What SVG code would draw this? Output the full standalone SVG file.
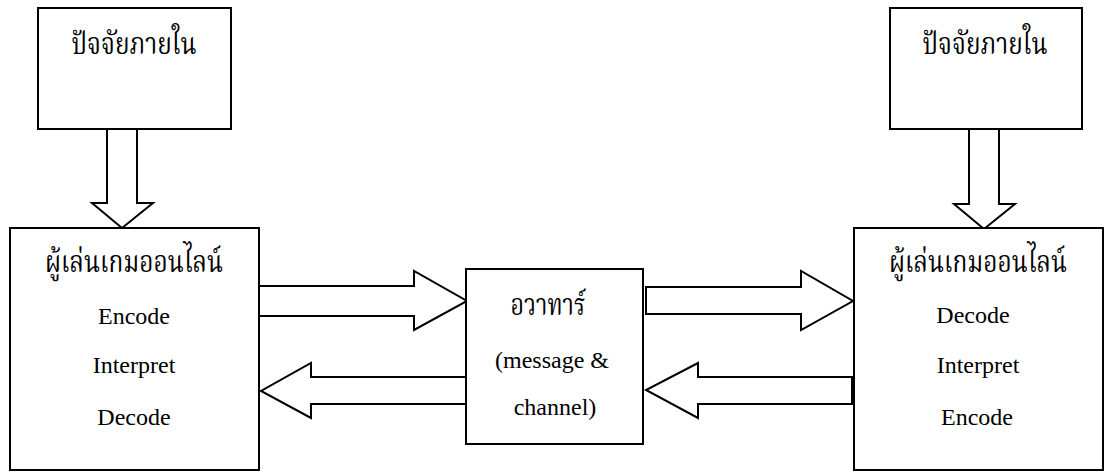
<svg xmlns="http://www.w3.org/2000/svg" width="1106" height="472" viewBox="0 0 1106 472">
  <style>
    .box { fill: #ffffff; stroke: #000000; stroke-width: 2; }
    .arrow { fill: #ffffff; stroke: #000000; stroke-width: 2; stroke-linejoin: miter; }
    .th { font-family: "Liberation Serif", "Noto Serif Thai", "Noto Sans Thai", serif; font-size: 30px; fill: #000; text-anchor: middle; }
    .en { font-family: "Liberation Serif", "Times New Roman", serif; font-size: 24px; fill: #000; text-anchor: middle; }
  </style>
  <rect width="1106" height="472" fill="#ffffff"/>

  <!-- block arrows -->
  <g id="connectors">
    <!-- internal factors into each player -->
    <polygon class="arrow" points="107,129 137,129 137,203 153,203 122,228 92,203 107,203"/>
    <polygon class="arrow" points="969,129 999,129 999,204 1015,204 984,229 954,204 969,204"/>
    <!-- left player -> avatar -->
    <polygon class="arrow" points="259,286 414,286 414,271 467,301 414,330 414,316 259,316"/>
    <!-- avatar -> left player -->
    <polygon class="arrow" points="466,377 311,377 311,363 261,391 311,418 311,404 466,404"/>
    <!-- avatar -> right player -->
    <polygon class="arrow" points="646,287 801,287 801,271 853,301 801,330 801,314 646,314"/>
    <!-- right player -> avatar -->
    <polygon class="arrow" points="852,377 698,377 698,363 646,390 698,418 698,404 852,404"/>
  </g>

  <g id="factor-left">
    <rect class="box" x="38" y="8" width="193" height="121"/>
    <text class="th" x="134" y="54" textLength="125" lengthAdjust="spacingAndGlyphs">ปัจจัยภายใน</text>
  </g>

  <g id="factor-right">
    <rect class="box" x="890" y="8" width="192" height="121"/>
    <text class="th" x="985" y="54" textLength="125" lengthAdjust="spacingAndGlyphs">ปัจจัยภายใน</text>
  </g>

  <g id="player-left">
    <rect class="box" x="10" y="228" width="249" height="242"/>
    <text class="th" x="134" y="272" textLength="178" lengthAdjust="spacingAndGlyphs">ผู้เล่นเกมออนไลน์</text>
    <text class="en" x="134" y="324">Encode</text>
    <text class="en" x="134" y="373">Interpret</text>
    <text class="en" x="134" y="425">Decode</text>
  </g>

  <g id="avatar">
    <rect class="box" x="466" y="269" width="177" height="175"/>
    <text class="th" x="548" y="315" textLength="75" lengthAdjust="spacingAndGlyphs">อวาทาร์</text>
    <text class="en" x="552" y="368">(message &amp;</text>
    <text class="en" x="555" y="415">channel)</text>
  </g>

  <g id="player-right">
    <rect class="box" x="854" y="228" width="249" height="242"/>
    <text class="th" x="978" y="272" textLength="178" lengthAdjust="spacingAndGlyphs">ผู้เล่นเกมออนไลน์</text>
    <text class="en" x="973" y="323">Decode</text>
    <text class="en" x="978" y="373">Interpret</text>
    <text class="en" x="977" y="425">Encode</text>
  </g>
</svg>
